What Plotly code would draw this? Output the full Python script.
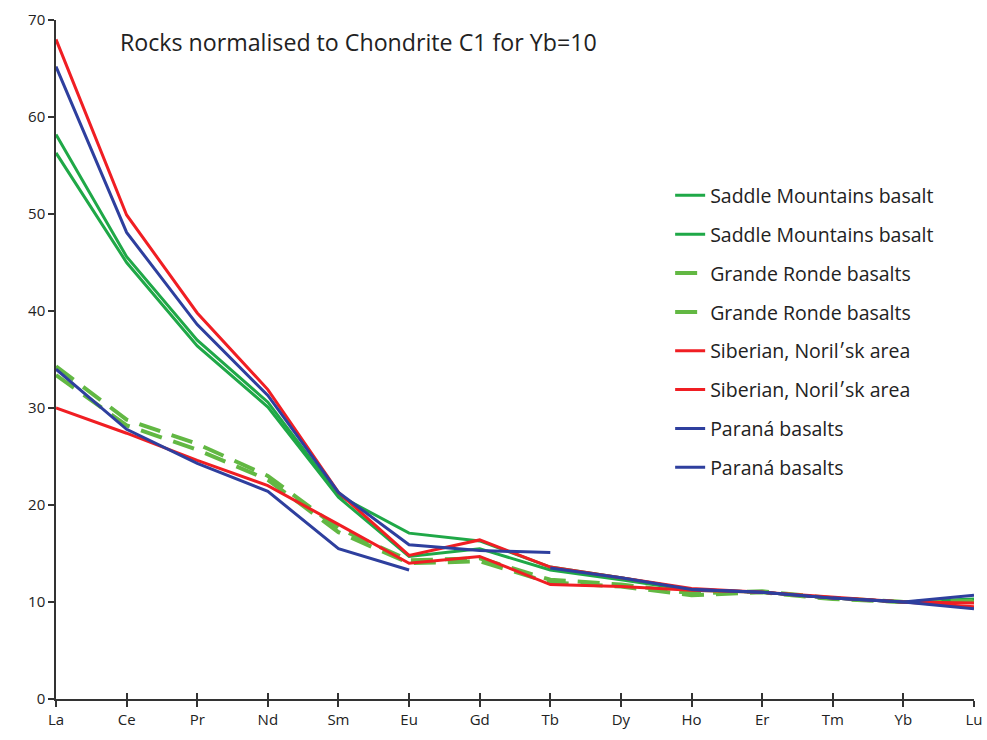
import plotly.graph_objects as go

elements = ["La", "Ce", "Pr", "Nd", "Sm", "Eu", "Gd", "Tb", "Dy", "Ho", "Er", "Tm", "Yb", "Lu"]

saddle_1 = [58.2, 45.6, 37.0, 30.6, 21.0, 17.1, 16.3, 13.6, 12.5, 11.3, 11.0, 10.4, 10.0, 10.3]
saddle_2 = [56.3, 45.0, 36.4, 30.1, 20.8, 14.7, 15.5, 13.3, 12.3, 11.2, 11.0, 10.4, 10.0, 10.2]
grande_1 = [34.3, 28.8, 26.3, 23.0, 17.6, 14.3, 14.5, 12.3, 11.8, 10.9, 11.1, 10.4, 10.0, 10.1]
grande_2 = [33.4, 28.2, 25.7, 22.6, 17.2, 14.0, 14.2, 12.0, 11.6, 10.7, 11.0, 10.3, 10.0, 10.0]
siberian_1 = [68.0, 49.9, 39.8, 31.9, 21.3, 14.8, 16.4, 13.6, 12.5, 11.4, 11.0, 10.5, 10.0, 9.9]
siberian_2 = [30.0, 27.4, 24.6, 22.0, 18.0, 14.0, 14.7, 11.8, 11.6, 11.2, 11.0, 10.4, 10.0, 9.5]
parana_1 = [65.2, 48.1, 38.6, 31.3, 21.3, 15.9, 15.3, 15.1, None, 11.3, 11.0, 10.4, 10.0, 10.7]
parana_2 = [34.0, 27.8, 24.3, 21.4, 15.5, 13.3, None, 13.5, 12.5, 11.3, 11.0, 10.4, 10.0, 9.3]

series = [
    ("Saddle Mountains basalt", saddle_1, "#1FA847", None),
    ("Saddle Mountains basalt", saddle_2, "#1FA847", None),
    ("Grande Ronde basalts", grande_1, "#62B843", "22px,12px"),
    ("Grande Ronde basalts", grande_2, "#62B843", "22px,12px"),
    ("Siberian, Norilʹsk area", siberian_1, "#F01E23", None),
    ("Siberian, Norilʹsk area", siberian_2, "#F01E23", None),
    ("Paraná basalts", parana_1, "#2E3F9E", None),
    ("Paraná basalts", parana_2, "#2E3F9E", None),
]

fig = go.Figure()
for i, (name, vals, color, dash) in enumerate(series):
    fig.add_trace(go.Scatter(
        x=list(range(len(elements))), y=vals, mode="lines", name=name,
        legendgroup=f"g{i}",
        line=dict(color=color, width=4 if dash else 3, dash=dash or "solid"),
        connectgaps=False,
    ))

font_family = "'Open Sans', Lato, sans-serif"

fig.update_layout(
    width=987, height=740,
    margin=dict(l=56, r=13, t=20, b=41, autoexpand=False),
    paper_bgcolor="white", plot_bgcolor="white",
    font=dict(family=font_family, size=15, color="#222222"),
    showlegend=True,
    legend=dict(
        x=0.669, y=0.770, xanchor="left", yanchor="top",
        font=dict(size=19.5, color="#222222"),
        tracegroupgap=10.5, traceorder="grouped",
        bgcolor="rgba(255,255,255,0)",
    ),
    xaxis=dict(
        range=[0, 13], tickmode="array", tickvals=list(range(len(elements))),
        ticktext=elements, showgrid=False, zeroline=False, automargin=False,
        ticklabeloverflow="allow",
        showline=True, linecolor="#333333", linewidth=1.5,
        ticks="outside", ticklen=6, tickcolor="#333333", tickwidth=1.5,
        tickfont=dict(size=15, color="#222222"),
    ),
    xaxis2=dict(
        range=[0, 13], tickmode="array", tickvals=list(range(len(elements))),
        showticklabels=False, overlaying="x", anchor="y", side="bottom",
        showgrid=False, zeroline=False, showline=False, automargin=False,
        ticks="inside", ticklen=6, tickcolor="#333333", tickwidth=1.5,
    ),
    yaxis=dict(
        range=[0, 70], tickmode="linear", tick0=0, dtick=10,
        showgrid=False, zeroline=False, automargin=False,
        showline=True, linecolor="#333333", linewidth=1.5,
        ticks="outside", ticklen=6, tickcolor="#333333", tickwidth=1.5,
        tickfont=dict(size=15, color="#222222"),
    ),
    annotations=[dict(
        text="Rocks normalised to Chondrite C1 for Yb=10",
        xref="paper", yref="paper", x=0.067, y=0.967,
        xanchor="left", yanchor="middle", showarrow=False,
        font=dict(size=23.2, color="#222222", family=font_family),
    )],
)

fig.add_trace(go.Scatter(x=[0], y=[None], xaxis="x2", showlegend=False, hoverinfo="skip"))

fig.write_html(
    "out.html",
    config={"displayModeBar": False},
    post_script="document.body.style.margin='0';document.body.style.overflow='hidden';",
)
